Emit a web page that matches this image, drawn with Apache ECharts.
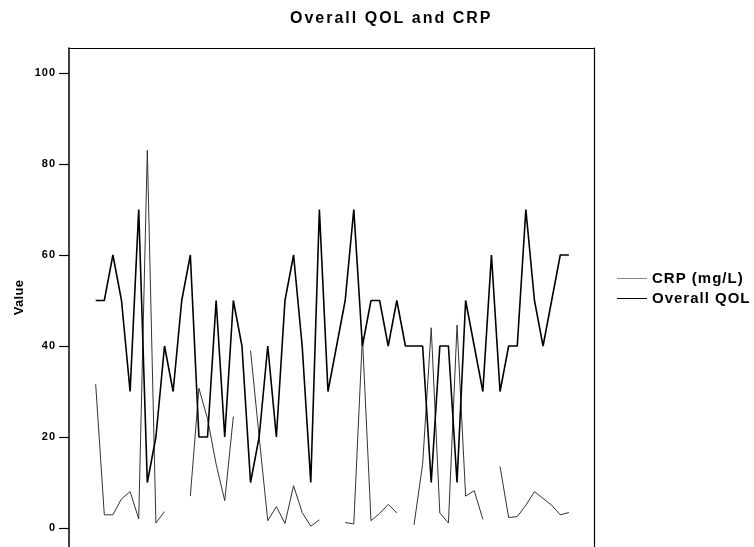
<!DOCTYPE html>
<html>
<head>
<meta charset="utf-8">
<title>Overall QOL and CRP</title>
<script src="https://cdn.jsdelivr.net/npm/echarts@6/dist/echarts.min.js"></script>
<style>
  html, body { margin: 0; padding: 0; background: #fff; }
  #chart { width: 754px; height: 547px; }
</style>
</head>
<body>
<div id="chart"></div>
<script>
// Per-case values (case 1..56); null = missing measurement
const crpValues = [
  31.6, 2.9, 2.9, 6.4, 8, 2, 83, 1.1, 3.6, null,
  null, 7, 30.7, 24, 14, 6, 24.5, null, 39, 20,
  1.6, 4.7, 1, 9.3, 3.4, 0.4, 1.8, null, null, 1.2,
  0.9, 42, 1.6, 3.2, 5.2, 3.3, null, 0.7, 14, 44,
  3.3, 1.1, 44.6, 7, 8.2, 1.9, null, 13.5, 2.3, 2.5,
  5, 8, 6.5, 5, 2.9, 3.4
];
const qolValues = [
  50, 50, 60, 50, 30, 70, 10, 20, 40, 30,
  50, 60, 20, 20, 50, 20, 50, 40, 10, 20,
  40, 20, 50, 60, 40, 10, 70, 30, 40, 50,
  70, 40, 50, 50, 40, 50, 40, 40, 40, 10,
  40, 40, 10, 50, 40, 30, 60, 30, 40, 40,
  70, 50, 40, 50, 60, 60
];
const seriesNames = ['CRP (mg/L)', 'Overall QOL'];
const yTickValues = [0, 20, 40, 60, 80, 100];
const chartTitle = 'Overall QOL and CRP';
const yAxisTitle = 'Value';

// Slightly tracked lettering, as in the statistics-package output
const baseFillText = CanvasRenderingContext2D.prototype.fillText;
CanvasRenderingContext2D.prototype.fillText = function (text, x, y, maxWidth) {
  const m = /(\d+(?:\.\d+)?)px/.exec(this.font);
  const size = m ? parseFloat(m[1]) : 12;
  const spacing = size >= 16 ? 2 : size >= 14 ? 1 : size >= 12 ? 0.3 : 1;
  this.letterSpacing = spacing + 'px';
  if (maxWidth === undefined) {
    baseFillText.call(this, text, x, y);
  } else {
    baseFillText.call(this, text, x, y, maxWidth);
  }
  this.letterSpacing = '0px';
};

const toPairs = arr => arr.map((v, i) => [i + 1, v]);
const FONT = "'Liberation Sans', Arial, sans-serif";

const chart = echarts.init(document.getElementById('chart'), null, { renderer: 'canvas' });

chart.setOption({
  backgroundColor: '#ffffff',
  animation: false,
  title: {
    text: chartTitle,
    left: 290,
    top: 11,
    padding: 0,
    textStyle: { fontFamily: FONT, fontSize: 16, fontWeight: 'bold', color: '#000' }
  },
  legend: {
    orient: 'vertical',
    left: 617,
    top: 271,
    padding: 0,
    itemWidth: 30,
    itemHeight: 1,
    itemGap: 5,
    textStyle: { fontFamily: FONT, fontSize: 15, fontWeight: 'bold', color: '#000' },
    data: [
      { name: seriesNames[0], icon: 'rect', itemStyle: { color: '#888' } },
      { name: seriesNames[1], icon: 'rect', itemStyle: { color: '#000' } }
    ]
  },
  grid: {
    left: 69,
    right: 160,
    top: 48,
    bottom: 0,
    containLabel: false
  },
  xAxis: [
    {
      type: 'value',
      min: -2.103,
      max: 58.92,
      axisLine: { show: false },
      axisTick: { show: false },
      axisLabel: { show: false },
      splitLine: { show: false }
    },
    {
      type: 'value',
      position: 'top',
      min: -2.103,
      max: 58.92,
      axisLine: { show: true, onZero: false, lineStyle: { color: '#000', width: 1.2 } },
      axisTick: { show: false },
      axisLabel: { show: false },
      splitLine: { show: false }
    }
  ],
  yAxis: [
    {
      type: 'value',
      min: -4.176,
      max: 105.49,
      name: yAxisTitle,
      nameLocation: 'middle',
      nameRotate: 90,
      nameGap: 43,
      nameTextStyle: { fontFamily: FONT, fontSize: 13, fontWeight: 'bold', color: '#000' },
      axisLine: { show: true, onZero: false, lineStyle: { color: '#000', width: 1.5 } },
      axisTick: {
        show: true,
        length: 10,
        customValues: yTickValues,
        lineStyle: { color: '#000', width: 1.2 }
      },
      axisLabel: {
        show: true,
        margin: 13,
        customValues: yTickValues,
        fontFamily: FONT,
        fontSize: 11,
        fontWeight: 'bold',
        color: '#000'
      },
      splitLine: { show: false }
    },
    {
      type: 'value',
      position: 'right',
      min: -4.176,
      max: 105.49,
      axisLine: { show: true, onZero: false, lineStyle: { color: '#000', width: 1.2 } },
      axisTick: { show: false },
      axisLabel: { show: false },
      splitLine: { show: false }
    }
  ],
  series: [
    {
      name: seriesNames[0],
      type: 'line',
      xAxisIndex: 0,
      yAxisIndex: 0,
      data: toPairs(crpValues),
      symbol: 'none',
      connectNulls: false,
      lineStyle: { color: '#333', width: 1 },
      itemStyle: { color: '#888' },
      z: 2
    },
    {
      name: seriesNames[1],
      type: 'line',
      xAxisIndex: 0,
      yAxisIndex: 0,
      data: toPairs(qolValues),
      symbol: 'none',
      lineStyle: { color: '#000', width: 1.6 },
      itemStyle: { color: '#000' },
      z: 3
    }
  ]
});
</script>
</body>
</html>
